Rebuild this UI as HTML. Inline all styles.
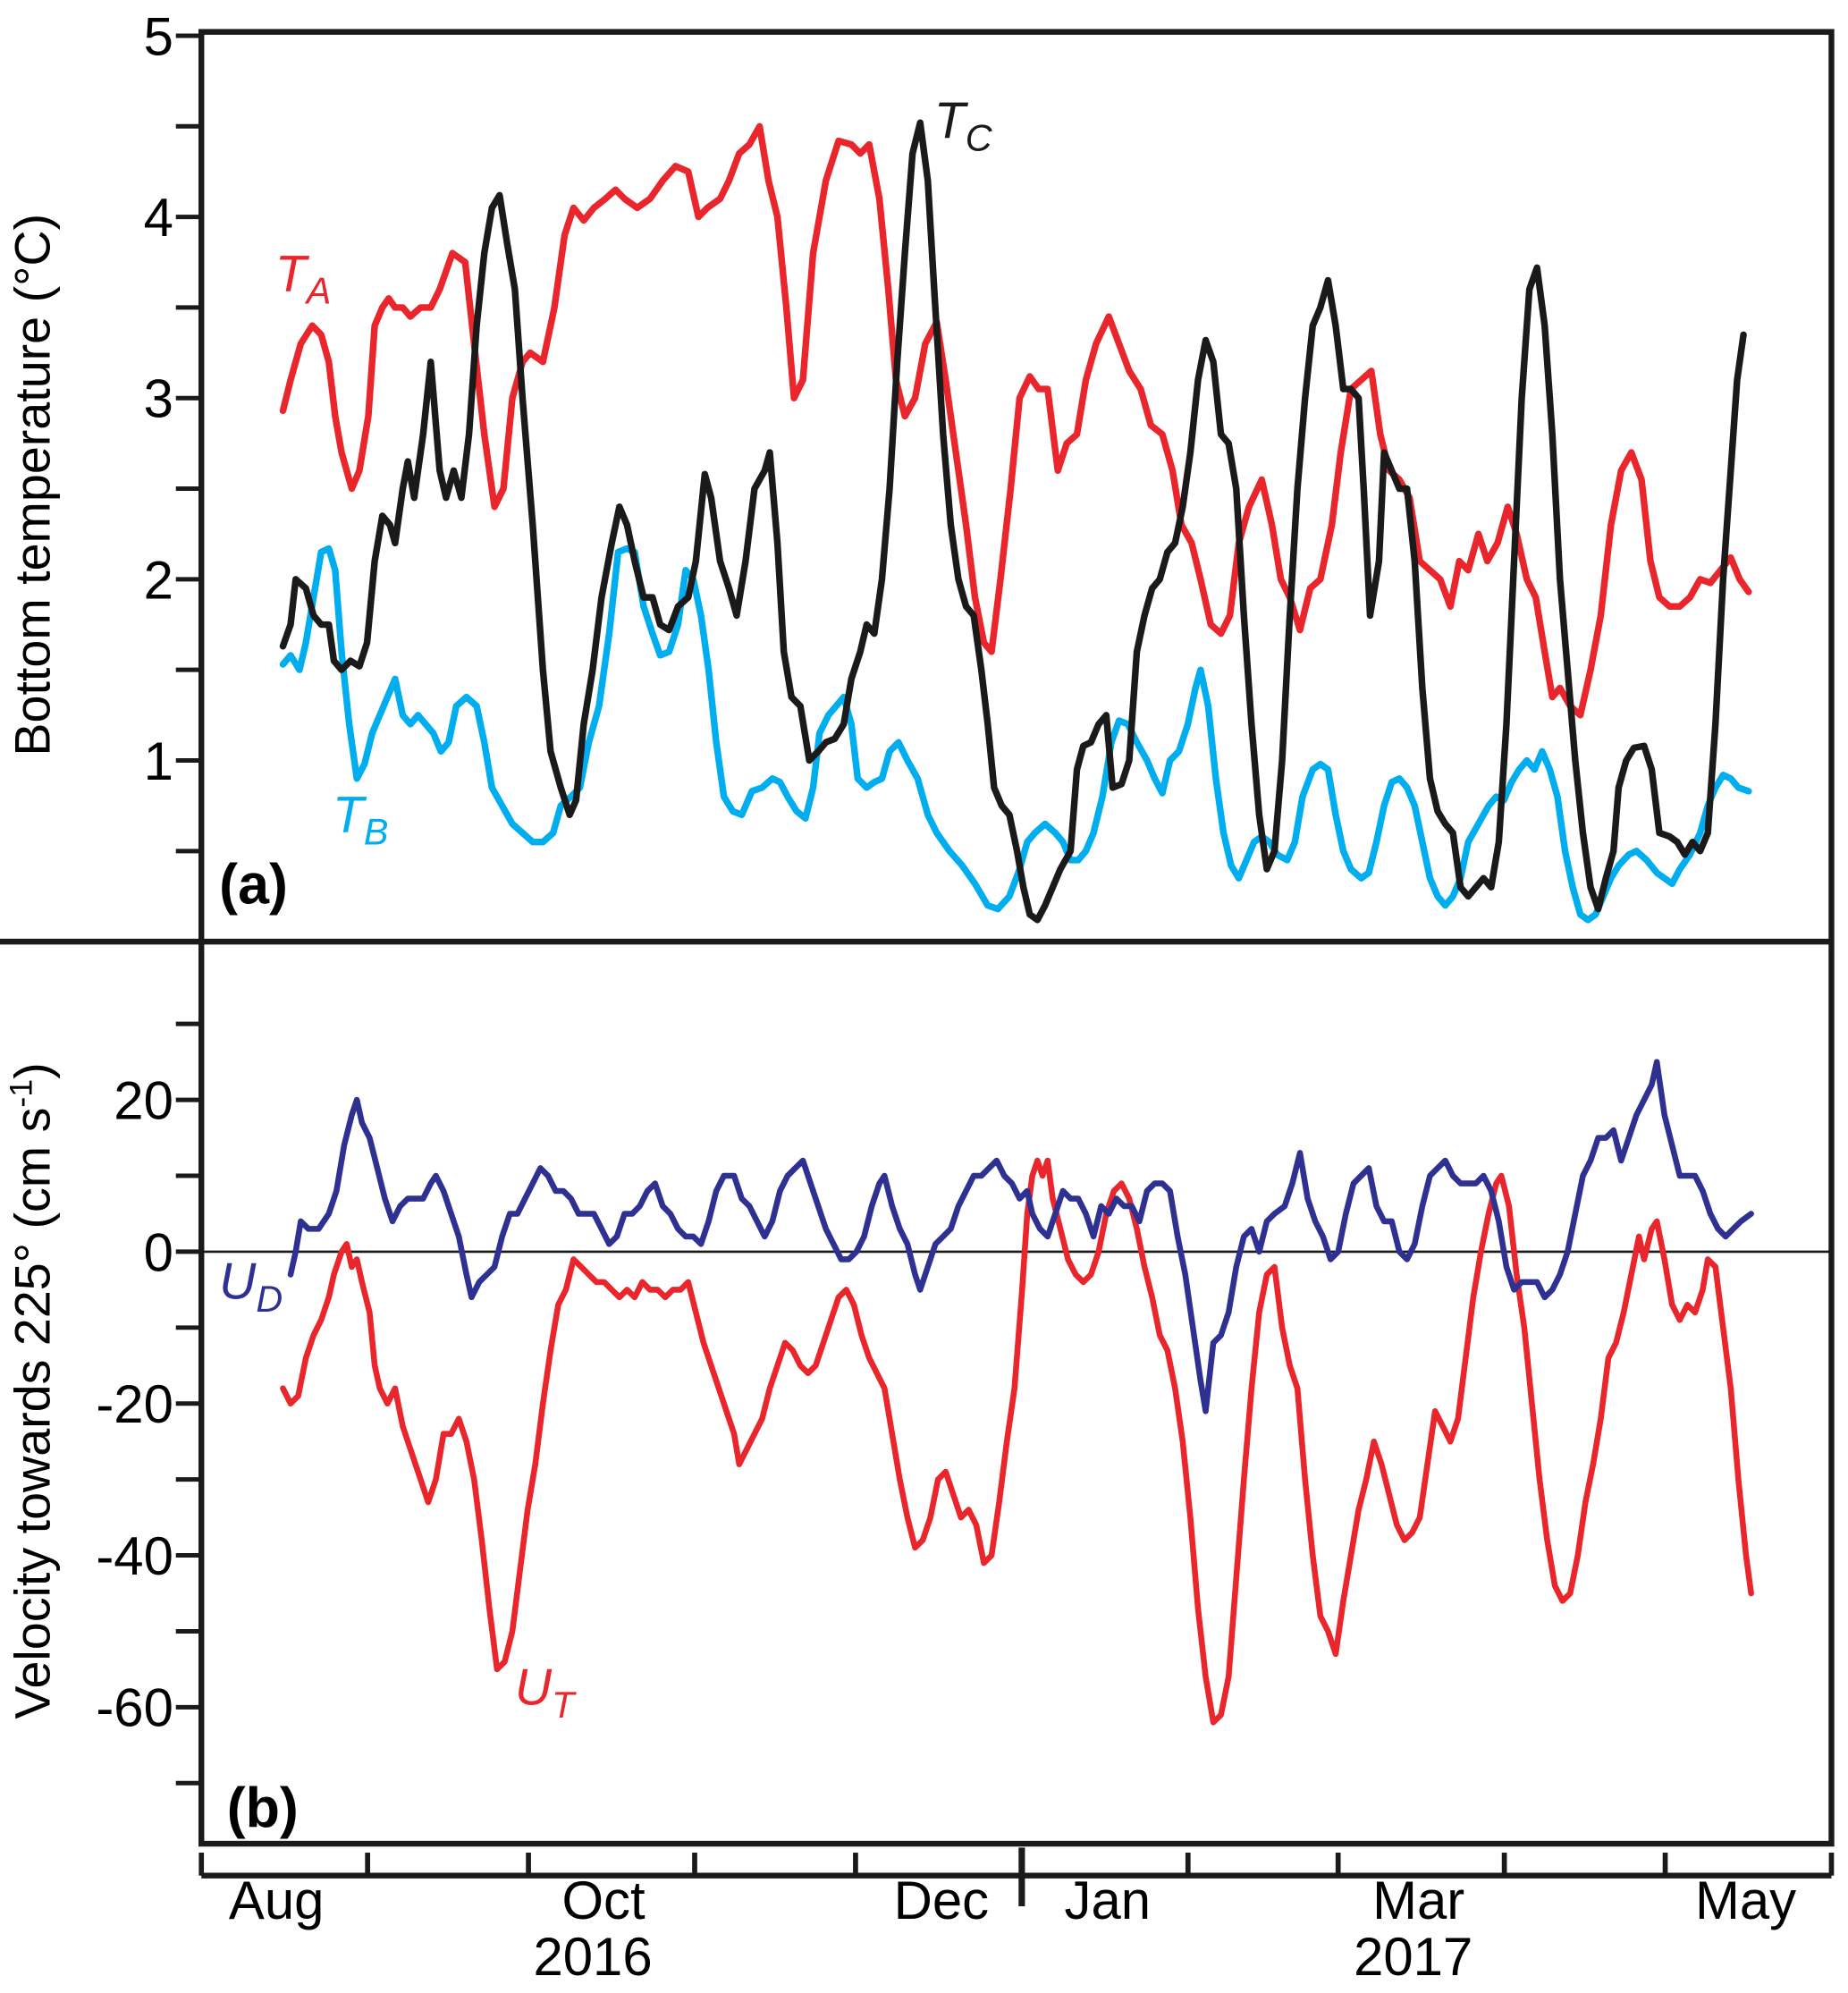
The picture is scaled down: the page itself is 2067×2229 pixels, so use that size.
<!DOCTYPE html>
<html><head><meta charset="utf-8"><style>
html,body{margin:0;padding:0;background:#fff}
svg{display:block}
text{font-family:"Liberation Sans",Arial,sans-serif}
</style></head><body>
<svg id="chart" width="2067" height="2229" viewBox="0 0 1450 1562" preserveAspectRatio="none" xmlns="http://www.w3.org/2000/svg">
<g id="frame"></g>
<g id="series"></g>
<g id="labels">
<text transform="translate(39,380) rotate(-90)" text-anchor="middle" font-size="39">Bottom temperature (°C)</text>
<text transform="translate(39,1090) rotate(-90)" text-anchor="middle" font-size="39">Velocity towards 225° (cm s<tspan baseline-shift="super" font-size="25">-1</tspan>)</text>
<text x="172" y="708" font-size="44" font-weight="bold">(a)</text>
<text x="178" y="1432" font-size="44" font-weight="bold">(b)</text>
<text x="216" y="228" font-size="40" font-style="italic" fill="#e8262b">T<tspan font-size="29" dy="10">A</tspan></text>
<text x="733" y="108" font-size="40" font-style="italic" fill="#1a1a1a">T<tspan font-size="29" dy="10">C</tspan></text>
<text x="261" y="652" font-size="40" font-style="italic" fill="#00aeef">T<tspan font-size="29" dy="10">B</tspan></text>
<text x="172" y="1018" font-size="40" font-style="italic" fill="#2e3192">U<tspan font-size="29" dy="10">D</tspan></text>
<text x="404" y="1336" font-size="40" font-style="italic" fill="#e8262b">U<tspan font-size="29" dy="10">T</tspan></text>
</g>
</svg>
<script>
// time readings (axis units, converted to days by toDay) and values
const taT=[222,228,236,245,252,258,263,268,276,282,289,294,300,305,310,316,322,330,338,345,355,365,372,380,388,395,402,410,416,426,435,443,450,458,466,475,483,490,500,510,520,530,540,548,555,565,572,580,588,596,603,610,617,623,630,638,648,658,668,675,682,690,697,703,710,718,726,735,742,750,758,765,772,778,785,793,800,808,815,822,830,837,845,852,860,870,878,886,895,903,912,920,927,935,942,950,958,965,972,980,990,998,1005,1012,1020,1028,1036,1045,1052,1060,1068,1076,1083,1090,1098,1106,1114,1122,1130,1138,1145,1152,1160,1167,1175,1183,1190,1198,1205,1212,1218,1224,1232,1240,1248,1256,1264,1272,1280,1288,1295,1302,1310,1318,1326,1334,1342,1350,1358,1365,1372];
const taV=[2.93,3.1,3.3,3.4,3.35,3.2,2.9,2.7,2.5,2.6,2.9,3.4,3.5,3.55,3.5,3.5,3.45,3.5,3.5,3.6,3.8,3.75,3.3,2.8,2.4,2.5,3.0,3.2,3.25,3.2,3.5,3.9,4.05,3.98,4.05,4.1,4.15,4.1,4.05,4.1,4.2,4.28,4.25,4.0,4.05,4.1,4.2,4.35,4.4,4.5,4.2,4.0,3.5,3.0,3.1,3.8,4.2,4.42,4.4,4.35,4.4,4.1,3.6,3.1,2.9,3.0,3.3,3.42,3.1,2.7,2.3,1.9,1.65,1.6,2.0,2.5,3.0,3.12,3.05,3.05,2.6,2.75,2.8,3.1,3.3,3.45,3.3,3.15,3.05,2.85,2.8,2.6,2.3,2.2,2.0,1.75,1.7,1.8,2.2,2.4,2.55,2.3,2.0,1.9,1.72,1.95,2.0,2.3,2.7,3.05,3.1,3.15,2.8,2.6,2.55,2.45,2.1,2.05,2.0,1.85,2.1,2.05,2.25,2.1,2.2,2.4,2.25,2.0,1.9,1.6,1.35,1.4,1.3,1.25,1.5,1.8,2.3,2.6,2.7,2.55,2.1,1.9,1.85,1.85,1.9,2.0,1.98,2.05,2.12,2.0,1.93];
const tcT=[222,228,232,240,246,252,258,262,268,275,282,288,294,300,306,310,316,320,325,332,338,345,350,356,362,368,374,380,386,392,398,404,410,418,426,432,440,447,452,458,465,472,480,486,492,498,505,512,518,525,532,540,546,553,558,565,572,578,585,592,600,604,610,615,621,628,635,642,648,655,662,668,675,680,686,692,698,704,710,716,722,728,733,740,746,752,758,764,770,775,780,786,792,798,803,808,814,820,826,832,840,845,850,856,862,868,873,880,886,892,898,904,910,916,922,928,934,940,946,952,958,964,970,976,982,988,994,1000,1006,1012,1018,1024,1030,1036,1042,1048,1054,1060,1066,1070,1075,1082,1086,1092,1098,1104,1110,1116,1122,1128,1134,1140,1146,1152,1158,1164,1170,1176,1182,1188,1194,1200,1206,1212,1218,1224,1230,1236,1242,1248,1254,1260,1266,1270,1276,1282,1290,1296,1302,1310,1316,1322,1328,1334,1340,1346,1352,1358,1363,1368];
const tcV=[1.63,1.75,2.0,1.95,1.8,1.75,1.75,1.55,1.5,1.55,1.52,1.65,2.1,2.35,2.3,2.2,2.5,2.65,2.45,2.8,3.2,2.6,2.45,2.6,2.45,2.8,3.4,3.8,4.05,4.12,3.85,3.6,3.0,2.3,1.5,1.05,0.85,0.7,0.78,1.2,1.5,1.9,2.2,2.4,2.3,2.1,1.9,1.9,1.75,1.72,1.85,1.9,2.1,2.58,2.45,2.1,1.95,1.8,2.1,2.5,2.6,2.7,2.2,1.6,1.35,1.3,1.0,1.05,1.1,1.12,1.2,1.45,1.6,1.75,1.7,2.0,2.5,3.2,3.8,4.35,4.52,4.2,3.6,2.8,2.3,2.0,1.85,1.8,1.5,1.2,0.85,0.75,0.7,0.5,0.3,0.15,0.12,0.2,0.3,0.4,0.5,0.95,1.08,1.1,1.2,1.25,0.85,0.87,1.0,1.6,1.8,1.95,2.0,2.15,2.2,2.4,2.7,3.1,3.32,3.2,2.8,2.75,2.5,1.8,1.2,0.7,0.4,0.5,1.0,1.8,2.5,3.0,3.4,3.5,3.65,3.4,3.05,3.05,3.0,2.5,1.8,2.1,2.7,2.6,2.5,2.5,2.1,1.4,0.9,0.72,0.65,0.6,0.3,0.25,0.3,0.35,0.3,0.55,1.2,2.1,3.0,3.6,3.72,3.4,2.8,2.0,1.5,1.0,0.6,0.3,0.18,0.35,0.5,0.85,1.0,1.07,1.08,0.95,0.6,0.58,0.55,0.48,0.55,0.5,0.6,1.2,2.0,2.6,3.1,3.35];
const tbT=[222,228,235,240,246,252,258,263,268,274,280,286,292,298,304,310,316,322,328,334,340,346,352,358,366,374,380,386,394,402,410,418,426,434,440,448,455,462,470,478,485,492,498,505,512,518,525,532,538,544,550,556,562,568,575,582,590,598,606,612,618,625,632,638,643,650,656,662,668,673,680,686,692,698,705,712,720,728,735,745,755,765,775,783,792,800,806,812,820,828,834,840,846,852,858,865,872,878,885,892,900,906,912,918,925,932,938,942,948,954,960,966,972,978,984,990,996,1002,1010,1016,1022,1030,1036,1042,1048,1054,1060,1068,1074,1080,1086,1092,1098,1104,1110,1116,1122,1128,1134,1140,1146,1152,1160,1168,1174,1180,1186,1192,1198,1204,1210,1216,1222,1228,1234,1240,1246,1252,1258,1264,1270,1278,1284,1292,1300,1306,1312,1318,1326,1334,1340,1346,1352,1358,1364,1372];
const tbV=[1.53,1.58,1.5,1.65,1.9,2.15,2.17,2.05,1.6,1.2,0.9,0.98,1.15,1.25,1.35,1.45,1.25,1.2,1.25,1.2,1.15,1.05,1.1,1.3,1.35,1.3,1.1,0.85,0.75,0.65,0.6,0.55,0.55,0.6,0.75,0.8,0.85,1.1,1.3,1.7,2.15,2.17,2.15,1.85,1.7,1.58,1.6,1.75,2.05,2.0,1.8,1.5,1.1,0.8,0.72,0.7,0.83,0.85,0.9,0.88,0.8,0.72,0.68,0.85,1.15,1.25,1.3,1.35,1.2,0.9,0.85,0.88,0.9,1.05,1.1,1.0,0.9,0.7,0.6,0.5,0.42,0.32,0.2,0.18,0.25,0.4,0.55,0.6,0.65,0.6,0.55,0.45,0.45,0.5,0.6,0.8,1.1,1.22,1.2,1.1,1.0,0.9,0.82,1.0,1.05,1.2,1.4,1.5,1.3,0.9,0.6,0.42,0.35,0.45,0.55,0.58,0.55,0.48,0.45,0.55,0.8,0.95,0.98,0.95,0.7,0.5,0.4,0.35,0.38,0.55,0.75,0.88,0.9,0.85,0.75,0.55,0.35,0.25,0.2,0.25,0.35,0.55,0.65,0.75,0.8,0.78,0.88,0.95,1.0,0.95,1.05,0.95,0.8,0.5,0.3,0.15,0.12,0.15,0.25,0.35,0.42,0.48,0.5,0.45,0.38,0.35,0.32,0.4,0.48,0.6,0.75,0.85,0.92,0.9,0.85,0.83];
const udT=[228,232,236,242,250,258,264,270,276,280,284,290,296,302,308,314,320,326,332,338,342,348,354,360,366,370,376,382,388,394,400,406,412,418,424,430,436,442,448,454,460,466,472,478,484,490,496,502,508,514,520,526,532,538,544,550,556,562,568,576,582,588,594,600,606,612,618,624,630,636,642,648,654,660,666,672,678,684,690,694,700,706,712,718,722,728,734,740,746,752,758,764,770,776,782,788,794,800,806,810,816,822,828,834,840,846,852,858,864,870,876,882,888,894,900,906,912,918,924,930,936,942,946,952,958,964,970,976,982,988,994,1000,1008,1014,1020,1026,1032,1038,1044,1050,1056,1062,1068,1074,1080,1086,1092,1098,1104,1110,1116,1122,1128,1134,1140,1146,1152,1158,1164,1170,1176,1182,1188,1194,1200,1206,1212,1218,1224,1230,1236,1242,1248,1254,1260,1266,1272,1278,1284,1290,1296,1300,1306,1312,1318,1324,1330,1336,1342,1348,1354,1360,1366,1374];
const udV=[-3,0,4,3,3,5,8,14,18,20,17,15,11,7,4,6,7,7,7,9,10,8,5,2,-3,-6,-4,-3,-2,2,5,5,7,9,11,10,8,8,7,5,5,5,3,1,2,5,5,6,8,9,6,5,3,2,2,1,4,8,10,10,7,6,4,2,4,8,10,11,12,9,6,3,1,-1,-1,0,2,6,9,10,6,3,1,-3,-5,-2,1,2,3,6,8,10,10,11,12,10,9,7,8,5,3,2,5,8,7,7,5,2,6,5,7,6,6,4,8,9,9,8,2,-3,-10,-17,-21,-12,-11,-8,-2,2,3,0,4,5,6,9,13,7,4,2,-1,0,5,9,10,11,6,4,4,0,-1,1,6,10,11,12,10,9,9,9,10,8,4,-2,-5,-4,-4,-4,-6,-5,-3,0,5,10,12,15,15,16,12,15,18,20,22,25,18,14,10,10,10,8,5,3,2,3,4,5];
const utT=[222,228,234,240,246,252,258,262,268,272,276,280,284,290,294,298,304,310,316,320,326,330,336,342,348,354,360,366,372,378,384,390,396,402,408,414,420,426,432,438,444,450,456,462,468,474,480,486,492,498,504,510,516,522,528,534,540,546,552,558,564,570,576,580,586,592,598,604,610,616,622,628,634,640,646,652,658,664,670,676,682,688,694,700,706,712,718,724,730,736,742,748,754,760,766,772,778,784,790,796,802,806,810,814,818,822,826,832,838,844,850,856,862,868,874,880,886,892,898,904,910,916,922,928,934,940,946,952,958,964,970,976,982,988,994,1000,1006,1012,1018,1024,1030,1036,1042,1048,1054,1060,1066,1072,1078,1084,1090,1096,1102,1108,1114,1120,1126,1132,1138,1144,1150,1156,1162,1168,1174,1178,1184,1190,1196,1202,1208,1214,1220,1226,1232,1238,1244,1250,1256,1262,1268,1274,1280,1286,1290,1296,1300,1306,1312,1318,1324,1330,1336,1340,1346,1352,1358,1364,1370,1374];
const utV=[-18,-20,-19,-14,-11,-9,-6,-3,0,1,-2,-1,-4,-8,-15,-18,-20,-18,-23,-25,-28,-30,-33,-30,-24,-24,-22,-25,-30,-38,-47,-55,-54,-50,-42,-34,-28,-20,-13,-7,-5,-1,-2,-3,-4,-4,-5,-6,-5,-6,-4,-5,-5,-6,-5,-5,-4,-8,-12,-15,-18,-21,-24,-28,-26,-24,-22,-18,-15,-12,-13,-15,-16,-15,-12,-9,-6,-5,-7,-11,-14,-16,-18,-24,-30,-35,-39,-38,-35,-30,-29,-32,-35,-34,-36,-41,-40,-33,-25,-18,-5,5,10,12,10,12,7,3,-1,-3,-4,-3,0,5,8,9,7,3,-2,-6,-11,-13,-18,-25,-35,-47,-56,-62,-61,-56,-43,-30,-18,-8,-3,-2,-10,-15,-18,-30,-40,-48,-50,-53,-46,-40,-34,-30,-25,-28,-32,-36,-38,-37,-35,-28,-21,-23,-25,-22,-14,-6,0,5,9,10,6,-3,-10,-20,-30,-38,-44,-46,-45,-40,-33,-28,-22,-14,-12,-8,-3,2,-1,3,4,-1,-7,-9,-7,-8,-5,-1,-2,-10,-18,-30,-40,-45];
const monthLabels=["Aug","Oct","Dec","Jan","Mar","May"];
const monthLabelDays=[14,75,138,169,227,288];
const monthTickDays=[0,31,61,92,122,153,184,212,243,273,304];
const tempTicks=[1,2,3,4,5];
const velTicks=[20,0,-20,-40,-60];

const NS="http://www.w3.org/2000/svg";
const X0=158,X1=1437,PXD=(X1-X0)/304;
const toDay=t=>(t-X0)/PXD;
const xDay=d=>X0+d*PXD;
const yTemp=v=>738-v*142;
const yVel=v=>981-v*5.95;
function mk(tag,attrs,parent){const e=document.createElementNS(NS,tag);for(const k in attrs)e.setAttribute(k,attrs[k]);parent.appendChild(e);return e;}
const fr=document.getElementById('frame'),se=document.getElementById('series'),lb=document.getElementById('labels');

let r=mk('rect',{x:X0,y:25,width:X1-X0,height:1420,fill:'none',stroke:'#1a1a1a','stroke-width':4.5},fr);

let d=mk('line',{x1:0,x2:X1,y1:738,y2:738,stroke:'#1a1a1a','stroke-width':4.5},fr);

let z=mk('line',{x1:X0,x2:X1,y1:yVel(0),y2:yVel(0),stroke:'#1a1a1a','stroke-width':1.8},fr);

for(let v=0.5;v<=5;v+=0.5){const t=mk('line',{x1:X0-20,x2:X0,y1:yTemp(v),y2:yTemp(v),stroke:'#1a1a1a','stroke-width':3.5},fr);
}
tempTicks.forEach(v=>{const t=mk('text',{x:X0-22,y:yTemp(v)+15,'text-anchor':'end','font-size':42},lb);t.textContent=v;
});
for(let v=30;v>=-70;v-=10){const t=mk('line',{x1:X0-20,x2:X0,y1:yVel(v),y2:yVel(v),stroke:'#1a1a1a','stroke-width':3.5},fr);
}
velTicks.forEach(v=>{const t=mk('text',{x:X0-22,y:yVel(v)+15,'text-anchor':'end','font-size':42},lb);t.textContent=v;
});
let xa=mk('line',{x1:X0,x2:X1,y1:1470,y2:1470,stroke:'#1a1a1a','stroke-width':4.5},fr);

monthTickDays.forEach((m,i)=>{const big=(i===5);const t=mk('line',{x1:xDay(m),x2:xDay(m),y1:big?1448:1452,y2:big?1494:1470,stroke:'#1a1a1a','stroke-width':big?5:4},fr);
});
monthLabels.forEach((m,i)=>{const t=mk('text',{x:xDay(monthLabelDays[i]),y:1504,'text-anchor':'middle','font-size':42},lb);t.textContent=m;
});
[["2016",73],["2017",226]].forEach(a=>{const t=mk('text',{x:xDay(a[1]),y:1548,'text-anchor':'middle','font-size':42},lb);t.textContent=a[0];
});
function line(ts,vs,yf,color,w,name){const p=ts.map((t,i)=>xDay(toDay(t)).toFixed(1)+','+yf(vs[i]).toFixed(1)).join(' ');
const e=mk('polyline',{points:p,fill:'none',stroke:color,'stroke-width':w,'stroke-linejoin':'round','stroke-linecap':'round'},se);
}
line(tbT,tbV,yTemp,'#00aeef',5.2,'series-tb');
line(taT,taV,yTemp,'#e8262b',5.2,'series-ta');
line(tcT,tcV,yTemp,'#1a1a1a',5.2,'series-tc');
line(utT,utV,yVel,'#e8262b',4.6,'series-ut');
line(udT,udV,yVel,'#2e3192',4.6,'series-ud');
</script>
</body></html>
